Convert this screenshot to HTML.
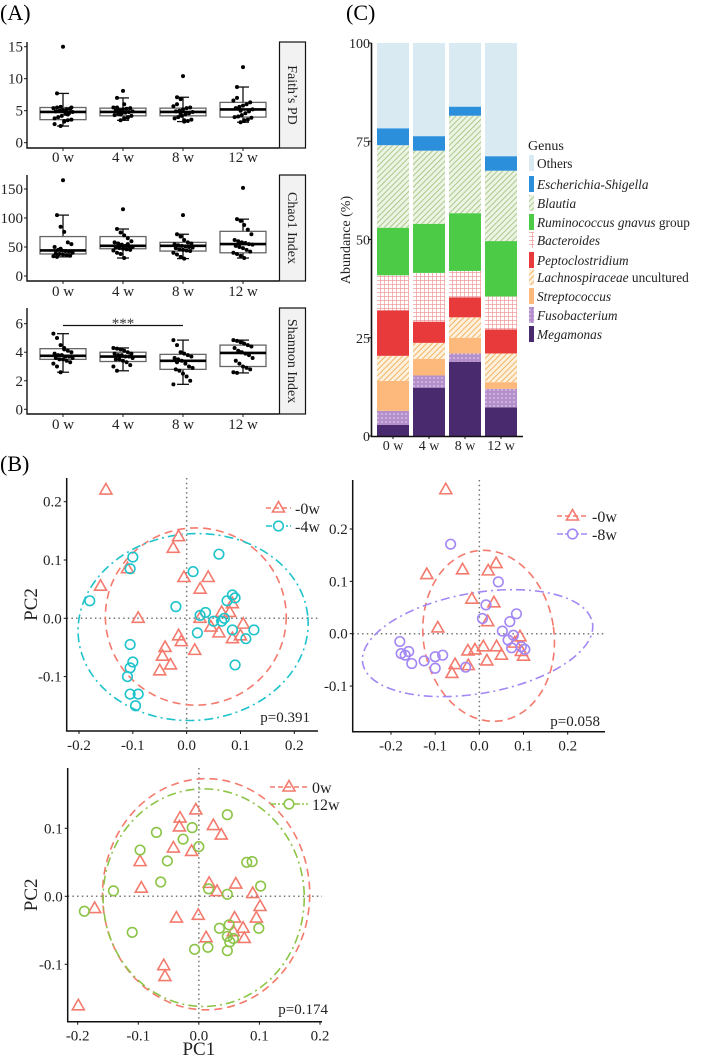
<!DOCTYPE html>
<html><head><meta charset="utf-8">
<style>
html,body{margin:0;padding:0;background:#fff;}
svg{display:block;font-family:"Liberation Serif",serif;}
text{font-family:"Liberation Serif",serif;}
</style></head>
<body>
<svg id="fig" width="701" height="1058" viewBox="0 0 701 1058" xmlns="http://www.w3.org/2000/svg" font-family="Liberation Serif, serif">
<defs>
<pattern id="pBlautia" patternUnits="userSpaceOnUse" width="4" height="4" patternTransform="rotate(45)">
<rect width="4" height="4" fill="#eef4e4"/><line x1="0" y1="0" x2="0" y2="4" stroke="#a9c98c" stroke-width="2"/></pattern>
<pattern id="pLachno" patternUnits="userSpaceOnUse" width="4" height="4" patternTransform="rotate(45)">
<rect width="4" height="4" fill="#fdf0dc"/><line x1="0" y1="0" x2="0" y2="4" stroke="#f1b565" stroke-width="2"/></pattern>
<pattern id="pBact" patternUnits="userSpaceOnUse" width="4" height="4">
<rect width="4" height="4" fill="#fff"/><path d="M0 0H4M0 0V4" stroke="#ec8a8a" stroke-width="1.2"/></pattern>
<pattern id="pFuso" patternUnits="userSpaceOnUse" width="4" height="4">
<rect width="4" height="4" fill="#b48fcc"/><circle cx="2" cy="2" r="0.8" fill="#e8dcf2"/></pattern>
</defs>
<text x="0" y="20" font-size="22">(A)</text>
<text x="346" y="20" font-size="22">(C)</text>
<text x="0" y="471" font-size="22">(B)</text>
</svg>
<script>
// ---------- Panel A data ----------
const boxCategories=['0 w','4 w','8 w','12 w'];
const faithStats=[[2.6,3.6,4.8,5.5,7.7],[3.5,4.2,4.8,5.4,7.0],[3.3,4.2,4.8,5.4,7.1],[3.2,4.0,5.2,6.3,8.7]];
const chaoStats=[[33,38,44,68,105],[31,47,52,68,81],[30,43,52,58,72],[31,40,55,77,98]];
const shannonStats=[[2.6,3.5,3.75,4.25,5.3],[2.7,3.35,3.7,4.0,4.3],[1.75,2.8,3.4,3.85,4.85],[2.55,3.0,3.95,4.5,4.85]];
const faithPoints=[[15,7.7,2.6,3.3,3.5,3.6,3.8,4.0,4.2,4.5,4.6,4.8,4.9,5.0,5.1,5.2,5.3,5.4,5.5,5.6,3.4,4.4,5.5,2.9],
[8.1,7.0,3.5,3.8,4.0,4.2,4.3,4.5,4.6,4.7,4.8,4.9,5.0,5.1,5.2,5.3,5.4,5.5,5.5,4.4,6.0,3.9],
[10.4,7.1,6.8,3.3,3.4,3.6,3.8,4.0,4.2,4.4,4.6,4.8,4.9,5.0,5.2,5.4,5.5,5.7,6.0,4.5,3.5],
[11.8,8.7,3.2,3.4,3.6,3.9,4.0,4.1,4.3,4.6,4.9,5.2,5.4,5.6,5.8,6.0,6.3,6.6,7.0,5.0,3.5]];
const chaoPoints=[[165,105,85,76,58,55,50,45,44,43,42,40,39,38,37,36,35,34,33,47],
[115,81,75,70,65,60,58,56,54,52,51,50,49,48,47,46,45,44,40,38,31,55],
[105,72,68,62,58,56,55,53,52,51,50,49,48,46,45,44,43,40,37,33,30],
[152,98,95,88,80,72,62,60,58,57,55,54,52,50,48,45,42,40,38,35,31]];
const shannonPoints=[[5.3,5.0,4.5,4.3,4.1,4.0,3.9,3.8,3.8,3.7,3.7,3.6,3.6,3.5,3.5,3.4,3.3,3.2,3.0,2.6,4.2],
[4.3,4.25,4.2,4.1,4.0,3.9,3.9,3.8,3.8,3.7,3.7,3.6,3.5,3.5,3.4,3.3,3.1,3.0,2.7],
[4.85,4.5,4.0,3.9,3.8,3.7,3.6,3.5,3.4,3.2,3.0,2.9,2.8,2.7,2.5,2.3,2.0,1.75,3.3],
[4.85,4.8,4.7,4.6,4.5,4.4,4.3,4.1,4.0,3.9,3.8,3.6,3.4,3.2,3.0,2.9,2.8,2.6,2.55,4.0]];
const faithTicks=[0,5,10,15];
const chaoTicks=[0,50,100,150];
const shannonTicks=[0,2,4,6];

// ---------- Panel B data ----------
const p1Week0X=[-0.15,-0.015,-0.025,-0.11,-0.16,-0.005,0.04,0.025,-0.09,0.025,0.065,0.08,0.085,0.105,0.045,0.06,0.085,0.1,-0.015,-0.01,0.015,-0.04,-0.045,-0.03,-0.05];
const p1Week0Y=[0.22,0.14,0.12,0.085,0.055,0.07,0.07,0.05,0.0,0.0,0.01,0.01,0.025,-0.01,-0.015,-0.025,-0.035,-0.03,-0.03,-0.04,-0.055,-0.05,-0.065,-0.08,-0.09];
const p1Week4X=[-0.18,-0.1,-0.105,0.06,0.012,-0.02,0.025,0.035,0.05,0.065,0.07,0.075,0.085,0.09,0.02,0.085,0.11,0.125,0.09,-0.105,-0.1,-0.105,-0.11,-0.105,-0.09,-0.095];
const p1Week4Y=[0.03,0.105,0.085,0.11,0.08,0.02,0.005,0.01,-0.005,-0.005,0.0,0.03,0.04,0.035,-0.025,-0.02,-0.035,-0.02,-0.08,-0.045,-0.075,-0.085,-0.1,-0.13,-0.13,-0.15];
const p2Week0X=[-0.076,-0.119,-0.038,0.02,0.038,-0.017,0.033,-0.094,0.019,-0.026,-0.01,0.009,0.039,0.05,0.017,-0.055,-0.062,-0.025,0.092,0.08,0.095,0.1];
const p2Week0Y=[0.275,0.113,0.122,0.12,0.134,0.066,0.059,0.011,0.023,-0.033,-0.031,-0.025,-0.025,-0.041,-0.052,-0.059,-0.076,-0.061,-0.006,-0.018,-0.034,-0.043];
const p2Week8X=[-0.065,0.043,0.015,0.007,0.084,0.069,0.052,0.065,0.077,0.073,0.095,0.103,-0.18,-0.177,-0.168,-0.16,-0.153,-0.125,-0.1,-0.083,-0.1,-0.031];
const p2Week8Y=[0.171,0.099,0.055,0.029,0.038,0.023,0.005,-0.012,-0.003,-0.027,-0.025,-0.03,-0.015,-0.038,-0.041,-0.034,-0.057,-0.052,-0.044,-0.041,-0.066,-0.064];
const p3Week0X=[-0.199,-0.172,-0.097,-0.095,-0.042,-0.031,-0.032,-0.005,-0.012,0.024,0.037,0.017,0.03,0.061,0.089,0.101,0.095,-0.037,-0.001,0.012,0.059,0.073,0.075,0.057,-0.058,-0.056];
const p3Week0Y=[-0.161,-0.018,0.051,0.012,0.071,0.115,0.102,0.127,0.066,0.104,0.09,0.019,0.007,0.018,0.004,-0.015,-0.032,-0.032,-0.028,-0.061,-0.032,-0.047,-0.062,-0.052,-0.102,-0.118];
const p3Week12X=[-0.189,-0.141,-0.097,-0.07,-0.052,-0.026,-0.011,0,-0.063,0.016,0.047,0.079,0.088,0.102,0.047,0.099,-0.11,-0.007,0.015,0.034,0.05,0.047,0.051,0.057,0.047];
const p3Week12Y=[-0.022,0.008,0.068,0.094,0.052,0.084,0.101,0.073,0.021,0.011,0.12,0.05,0.051,0.015,0.003,-0.047,-0.053,-0.078,-0.075,-0.047,-0.042,-0.059,-0.067,-0.062,-0.08];
// ellipses: [cx, cy, rx, ry, angleDeg]
const p1Ellipse0=[0.017,0.003,0.168,0.152,0];
const p1Ellipse4=[0.012,-0.015,0.214,0.16,-5];
const p2Ellipse0=[0.021,-0.004,0.148,0.164,-8];
const p2Ellipse8=[-0.004,-0.018,0.264,0.096,-10];
const p3Ellipse0=[0.012,0.003,0.171,0.17,0];
const p3Ellipse12=[0.008,-0.002,0.166,0.16,0];
const pValues=['p=0.391','p=0.058','p=0.174'];
const pcXTicks=[-0.2,-0.1,0.0,0.1,0.2];

// ---------- Panel C data ----------
const barCategories=['0 w','4 w','8 w','12 w'];
const genusNames=['Megamonas','Fusobacterium','Streptococcus','Lachnospiraceae','Peptoclostridium','Bacteroides','Ruminococcus gnavus','Blautia','Escherichia-Shigella','Others'];
const megamonas=[2.8,12.3,18.9,7.3];
const fusobacterium=[3.6,3.1,2.1,4.7];
const streptococcus=[7.6,4.2,4.0,1.7];
const lachnospiraceae=[6.4,4.1,5.2,7.3];
const peptoclostridium=[11.6,5.4,5.1,6.1];
const bacteroides=[8.9,12.4,6.7,8.4];
const ruminococcus=[12.1,12.5,14.7,14.1];
const blautia=[21.0,18.6,24.8,17.9];
const escherichia=[4.3,3.7,2.3,3.7];
const others=[21.7,23.7,16.2,28.8];
const abundanceTicks=[0,25,50,75,100];

const NS='http://www.w3.org/2000/svg';
const svg=document.getElementById('fig');
function mk(tag,attrs,parent){const e=document.createElementNS(NS,tag);for(const k in attrs)e.setAttribute(k,attrs[k]);(parent||svg).appendChild(e);return e;}
function txt(str,attrs,parent){const e=mk('text',attrs,parent);e.textContent=str;return e;}
function lin(d0,d1,r0,r1){return v=>r0+(v-d0)*(r1-r0)/(d1-d0);}
const FS=15;

// ===== Panel A =====
const catX=i=>63+60*i;
const boxPanels=[
 {name:'faith',stats:faithStats,pts:faithPoints,ticks:faithTicks,top:42,bottom:148,y:lin(0,15,142.7,46.7),strip:"Faith’s PD",xl:162},
 {name:'chao1',stats:chaoStats,pts:chaoPoints,ticks:chaoTicks,top:175,bottom:281,y:lin(0,150,276,189),strip:'Chao1 Index',xl:296},
 {name:'shannon',stats:shannonStats,pts:shannonPoints,ticks:shannonTicks,top:308,bottom:414,y:lin(0,6,409.3,323.7),strip:'Shannon Index',xl:429}
];
boxPanels.forEach(P=>{
 const g=mk('g',{});
 
 
 P.ticks.forEach(t=>{
  const ty=P.y(t);
  const tl=txt(String(t),{x:23,y:ty+5,'font-size':FS,'text-anchor':'end',fill:'#222'},g);
  
  
  mk('line',{x1:24,x2:27,y1:ty,y2:ty,stroke:'#222','stroke-width':1},g);
 });
 P.stats.forEach((s,i)=>{
  const cx=catX(i);
  const bg=mk('g',{},g);
  
  
  mk('line',{x1:cx,x2:cx,y1:P.y(s[0]),y2:P.y(s[4]),stroke:'#111','stroke-width':1.3},bg);
  mk('line',{x1:cx-6,x2:cx+6,y1:P.y(s[0]),y2:P.y(s[0]),stroke:'#111','stroke-width':1.3},bg);
  mk('line',{x1:cx-6,x2:cx+6,y1:P.y(s[4]),y2:P.y(s[4]),stroke:'#111','stroke-width':1.3},bg);
  mk('rect',{x:cx-23,y:P.y(s[3]),width:46,height:P.y(s[1])-P.y(s[3]),fill:'#fff',stroke:'#666','stroke-width':1.3},bg);
  mk('line',{x1:cx-23,x2:cx+23,y1:P.y(s[2]),y2:P.y(s[2]),stroke:'#000','stroke-width':2.6},bg);
  P.pts[i].forEach((v,j)=>{
   const off=(v>s[4]||v<s[0])?0:(((j*37)%17)-8)*1.2;
   const d=mk('circle',{cx:cx+off,cy:P.y(v),r:2,fill:'#000'},bg);
   
   
  });
  const xl=txt(boxCategories[i],{x:cx,y:P.xl,'font-size':FS,'text-anchor':'middle',fill:'#222'},g);
  
  
  mk('line',{x1:cx,x2:cx,y1:P.bottom,y2:P.bottom+3,stroke:'#222'},g);
 });
 mk('path',{d:`M27 ${P.top}V${P.bottom}H279`,fill:'none',stroke:'#111','stroke-width':1.4},g);
 const st=mk('rect',{x:279.5,y:P.top,width:26,height:P.bottom-P.top,fill:'#f2f2f2',stroke:'#111','stroke-width':1.2},g);
 
 
 const stt=txt(P.strip,{x:0,y:0,'font-size':14,'text-anchor':'middle',fill:'#222',transform:`translate(288 ${(P.top+P.bottom)/2}) rotate(90)`},g);
 
 
});
{
 const sig=mk('line',{x1:catX(0),x2:catX(2),y1:325.5,y2:325.5,stroke:'#111','stroke-width':1.2});
 
 
 const st=txt('***',{x:catX(1),y:328,'font-size':FS,'text-anchor':'middle',fill:'#333'});
 
 
}

// ===== Panel B =====
const pcPanels=[
 {name:'pcoa-0w-vs-4w',x:lin(-0.2,0.2,79,294.3),y:lin(0,0.2,618.3,501.7),L:66.7,R:318,T:478,B:731,yt:[-0.1,0.0,0.1,0.2],
  gA:[p1Week0X,p1Week0Y,p1Ellipse0],gB:[p1Week4X,p1Week4Y,p1Ellipse4],colB:'#1fc3cb',labB:'4w',
  leg:{x:266,y:508,t:295},p:{x:310,y:722,s:pValues[0]},pc2:true},
 {name:'pcoa-0w-vs-8w',x:lin(-0.2,0.2,391,567.7),y:lin(0,0.2,633.7,529),L:352.7,R:605,T:480,B:731.7,yt:[-0.1,0.0,0.1,0.2],
  gA:[p2Week0X,p2Week0Y,p2Ellipse0],gB:[p2Week8X,p2Week8Y,p2Ellipse8],colB:'#a387f5',labB:'8w',
  leg:{x:557,y:516,t:592},p:{x:600,y:726,s:pValues[1]},pc2:false},
 {name:'pcoa-0w-vs-12w',x:lin(-0.2,0.2,77.7,320),y:lin(0,0.1,896.3,828.3),L:67.7,R:322,T:768,B:1021.7,yt:[-0.1,0.0,0.1],
  gA:[p3Week0X,p3Week0Y,p3Ellipse0],gB:[p3Week12X,p3Week12Y,p3Ellipse12],colB:'#8cc447',labB:'12w',
  leg:{x:270,y:787,t:312},p:{x:328,y:1014,s:pValues[2]},pc2:true,pc1:true}
];
const RED='#f47a6d';
function tri(g,px,py,col){return mk('path',{d:`M${px} ${py-6.5}L${px-6} ${py+4}L${px+6} ${py+4}Z`,fill:'none',stroke:col,'stroke-width':1.6},g);}
pcPanels.forEach(P=>{
 const g=mk('g',{});
 
 
 mk('line',{x1:P.L,x2:P.R,y1:P.y(0),y2:P.y(0),stroke:'#777','stroke-width':1.5,'stroke-dasharray':'1.5 3.2'},g);
 mk('line',{x1:P.x(0),x2:P.x(0),y1:P.T,y2:P.B,stroke:'#777','stroke-width':1.5,'stroke-dasharray':'1.5 3.2'},g);
 [[P.gA,RED,'8 5'],[P.gB,P.colB,'9 4 2 4']].forEach(([grp,col,dash])=>{
  const e=grp[2];
  const el=mk('ellipse',{cx:P.x(e[0]),cy:P.y(e[1]),rx:e[2]*Math.abs(P.x(1)-P.x(0)),ry:e[3]*Math.abs(P.y(1)-P.y(0)),fill:'none',stroke:col,'stroke-width':1.6,'stroke-dasharray':dash,transform:`rotate(${e[4]} ${P.x(e[0])} ${P.y(e[1])})`},g);
  
  
 });
 P.gA[0].forEach((v,i)=>{
  const m=tri(g,P.x(v),P.y(P.gA[1][i]),RED);
  
  
 });
 P.gB[0].forEach((v,i)=>{
  const m=mk('circle',{cx:P.x(v),cy:P.y(P.gB[1][i]),r:4.8,fill:'none',stroke:P.colB,'stroke-width':1.6},g);
  
  
 });
 mk('path',{d:`M${P.L} ${P.T}V${P.B}H${P.R}`,fill:'none',stroke:'#111','stroke-width':1.5},g);
 P.yt.forEach(t=>{
  const ty=P.y(t);
  mk('line',{x1:P.L-3,x2:P.L,y1:ty,y2:ty,stroke:'#111'},g);
  const l=txt(t.toFixed(1),{x:P.L-5,y:ty+5,'font-size':FS,'text-anchor':'end',fill:'#222'},g);
  
  
 });
 pcXTicks.forEach(t=>{
  const tx=P.x(t);
  mk('line',{x1:tx,x2:tx,y1:P.B,y2:P.B+3,stroke:'#111'},g);
  const l=txt(t.toFixed(1),{x:tx,y:P.B+19,'font-size':FS,'text-anchor':'middle',fill:'#222'},g);
  
  
 });
 const lg=mk('g',{},g);
 
 
 mk('line',{x1:P.leg.x,x2:P.leg.t-4,y1:P.leg.y,y2:P.leg.y,stroke:RED,'stroke-width':1.6,'stroke-dasharray':'5 3'},lg);
 tri(lg,(P.leg.x+P.leg.t-4)/2,P.leg.y,RED);
 const t1=txt((P.labB==='12w'?'0w':'-0w'),{x:P.leg.t,y:P.leg.y+6,'font-size':16,fill:'#222'},lg);
 
 
 const ly=P.leg.y+(P.labB==='12w'?17:18);
 mk('line',{x1:P.leg.x,x2:P.leg.t-4,y1:ly,y2:ly,stroke:P.colB,'stroke-width':1.6,'stroke-dasharray':'6 2 2 2'},lg);
 mk('circle',{cx:(P.leg.x+P.leg.t-4)/2,cy:ly,r:4.8,fill:'#fff',stroke:P.colB,'stroke-width':1.6},lg);
 const t2=txt((P.labB==='12w'?'12w':'-'+P.labB),{x:P.leg.t,y:ly+6,'font-size':16,fill:'#222'},lg);
 
 
 const pv=txt(P.p.s,{x:P.p.x,y:P.p.y,'font-size':FS,'text-anchor':'end',fill:'#222'},g);
 
 
 if(P.pc2){
  const yc=(P.T+P.B)/2;
  const a=txt('PC2',{x:0,y:0,'font-size':19,'text-anchor':'middle',fill:'#222',transform:`translate(37 ${yc}) rotate(-90)`},g);
  
  
 }
 if(P.pc1){
  const a=txt('PC1',{x:P.x(0),y:1055,'font-size':19,'text-anchor':'middle',fill:'#222'},g);
  
  
 }
});

// ===== Panel C =====
const series=[megamonas,fusobacterium,streptococcus,lachnospiraceae,peptoclostridium,bacteroides,ruminococcus,blautia,escherichia,others];
const fills=['#4a2a6e','url(#pFuso)','#fdb97b','url(#pLachno)','#e83a3a','url(#pBact)','#4ccb46','url(#pBlautia)','#2b8fdb','#d9eaf3'];
const cy=lin(0,100,436,43);
const bx=i=>393+36*i;
const cg=mk('g',{});


barCategories.forEach((c,i)=>{
 let cum=0;
 series.forEach((s,k)=>{
  const y1=cy(cum+s[i]),y0=cy(cum);
  const r=mk('rect',{x:bx(i)-16,y:y1,width:32,height:y0-y1,fill:fills[k]},cg);
  
  
  cum+=s[i];
 });
 mk('line',{x1:bx(i),x2:bx(i),y1:436,y2:439,stroke:'#111'},cg);
 const l=txt(c,{x:bx(i),y:450,'font-size':14,'text-anchor':'middle',fill:'#222'},cg);
 
 
});
mk('path',{d:'M371.5 43V436.5H523',fill:'none',stroke:'#111','stroke-width':1.6},cg);
abundanceTicks.forEach(t=>{
 mk('line',{x1:368,x2:371.5,y1:cy(t),y2:cy(t),stroke:'#111'},cg);
 const l=txt(String(t),{x:370,y:cy(t)+5,'font-size':14,'text-anchor':'end',fill:'#222'},cg);
 
 
});
{
 const a=txt('Abundance (%)',{x:0,y:0,'font-size':14,'text-anchor':'middle',fill:'#222',transform:'translate(350 240) rotate(-90)'},cg);
 
 
}
const lgC=mk('g',{},cg);


{
 const h=txt('Genus',{x:528,y:150,'font-size':14,fill:'#222'},lgC);
 
 
}
const legendRows=[['Others',''],['Escherichia-Shigella',''],['Blautia',''],['Ruminococcus gnavus',' group'],['Bacteroides',''],['Peptoclostridium',''],['Lachnospiraceae',' uncultured'],['Streptococcus',''],['Fusobacterium',''],['Megamonas','']];
const legendY=[163,184,203,222,240,260,277,296,315,334];
legendRows.forEach((r,i)=>{
 const k=9-i;
 mk('rect',{x:529,y:legendY[i]-8,width:5,height:16,fill:fills[k]},lgC);
 const t=mk('text',{x:537,y:legendY[i]+5,'font-size':13.3,fill:'#222'},lgC);
 
 
 const a=document.createElementNS(NS,'tspan');a.textContent=r[0];
 if(r[0]!=='Others')a.setAttribute('font-style','italic');
 t.appendChild(a);
 if(r[1]){const b=document.createElementNS(NS,'tspan');b.textContent=r[1];t.appendChild(b);}
});
</script>
</body></html>
